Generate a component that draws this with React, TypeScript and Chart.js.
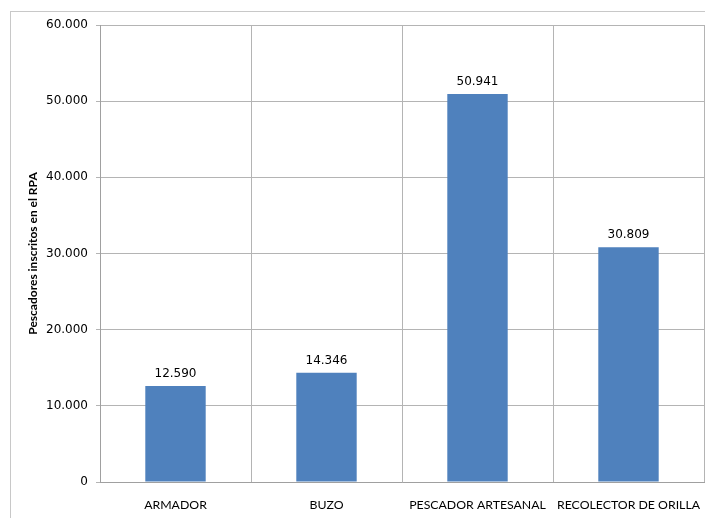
import React, { useEffect, useRef } from "react";
import { Chart, registerables } from "chart.js";

Chart.register(...registerables);

const categories = ["ARMADOR", "BUZO", "PESCADOR ARTESANAL", "RECOLECTOR DE ORILLA"];
const values = [12590, 14346, 50941, 30809];
const yTitle = "Pescadores inscritos en el RPA";

const fmt = (v: number) => {
  const s = Math.round(v).toString();
  return s.replace(/\B(?=(\d{3})+(?!\d))/g, ".");
};

const framePlugin = {
  id: "frame",
  beforeDraw(chart: any) {
    const ctx = chart.ctx;
    ctx.save();
    ctx.strokeStyle = "#c8c8c8";
    ctx.lineWidth = 1;
    ctx.strokeRect(10.5, 11.5, chart.width + 20, chart.height + 20);
    ctx.restore();
  },
};

const labelPlugin = {
  id: "valueLabels",
  afterDatasetsDraw(chart: any) {
    const ctx = chart.ctx;
    const meta = chart.getDatasetMeta(0);
    ctx.save();
    ctx.font = "12px 'DejaVu Sans'";
    ctx.fillStyle = "#000";
    ctx.textAlign = "center";
    ctx.textBaseline = "middle";
    meta.data.forEach((bar: any, i: number) => {
      ctx.fillText(fmt(values[i]), bar.x, bar.y - 12);
    });
    ctx.restore();
  },
};

export default function App() {
  const ref = useRef<HTMLCanvasElement>(null);
  useEffect(() => {
    if (!ref.current) return;
    const chart = new Chart(ref.current, {
      type: "bar",
      data: {
        labels: categories,
        datasets: [
          {
            data: values,
            backgroundColor: "#4F81BD",
            borderWidth: 0,
            barPercentage: 0.4,
            categoryPercentage: 1,
          },
        ],
      },
      options: {
        animation: false,
        responsive: false,
        maintainAspectRatio: false,
        layout: { padding: { left: 26, top: 25, right: 1, bottom: 0 } },
        plugins: { legend: { display: false }, tooltip: { enabled: false } },
        scales: {
          x: {
            grid: { color: "#b4b4b4", drawTicks: true, tickLength: 16, tickColor: "rgba(0,0,0,0)", offset: true },
            border: { color: "#a0a0a0" },
            ticks: { color: "#000", font: { family: "Lato", size: 12.3 }, padding: 0, maxRotation: 0, autoSkip: false },
            afterFit: (s: any) => { s.height = 36; },
          },
          y: {
            min: 0,
            max: 60000,
            grid: { color: "#b4b4b4", tickLength: 4 },
            border: { color: "#a0a0a0" },
            ticks: {
              stepSize: 10000,
              color: "#000",
              padding: 8,
              font: { family: "DejaVu Sans", size: 12 },
              callback: (v: any) => fmt(Number(v)),
            },
            title: {
              display: true,
              text: yTitle,
              color: "#000",
              font: { family: "Lato", size: 12, weight: "bold" },
              padding: 0,
            },
            afterFit: (s: any) => { s.width = 74; },
          },
        },
      },
      plugins: [framePlugin, labelPlugin],
    });
    return () => chart.destroy();
  }, []);
  return (
    <div style={{ position: "fixed", left: 0, top: 0, width: 705, height: 518, background: "#fff" }}>
      <canvas ref={ref} width={705} height={518} />
    </div>
  );
}
